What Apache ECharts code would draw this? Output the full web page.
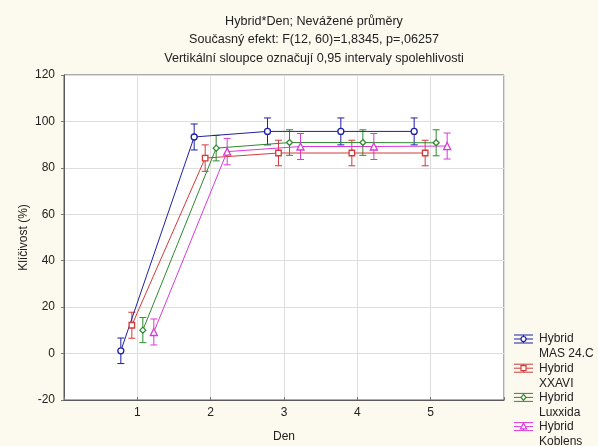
<!DOCTYPE html>
<html><head><meta charset="utf-8">
<script src="https://cdn.jsdelivr.net/npm/echarts@6/dist/echarts.min.js"></script>
<style>html,body{margin:0;padding:0;background:#fcf9ee}#c{width:598px;height:446px}</style>
</head><body><div id="c"></div>
<script>
// ---- data ----
const days = [1, 2, 3, 4, 5];
const xTickLabels = ['1', '2', '3', '4', '5'];
const seriesNames = ['Hybrid MAS 24.C', 'Hybrid XXAVI', 'Hybrid Luxxida', 'Hybrid Koblens'];
const legendLine1 = ['Hybrid', 'Hybrid', 'Hybrid', 'Hybrid'];
const legendLine2 = ['MAS 24.C', 'XXAVI', 'Luxxida', 'Koblens'];
const dayOffsets = [-0.225, -0.075, 0.075, 0.225];
const masValues = [1.2, 93.3, 95.7, 95.7, 95.7];
const masErr = [5.5, 5.6, 5.8, 5.8, 5.8];
const xxaviValues = [12.2, 84.2, 86.4, 86.4, 86.4];
const xxaviErr = [5.6, 5.7, 5.5, 5.5, 5.5];
const luxxidaValues = [10.1, 88.5, 90.9, 90.9, 90.8];
const luxxidaErr = [5.4, 5.5, 5.5, 5.5, 5.6];
const koblensValues = [9.3, 87.0, 89.2, 89.2, 89.4];
const koblensErr = [5.6, 5.7, 5.6, 5.6, 5.6];

const allValues = [masValues, xxaviValues, luxxidaValues, koblensValues];
const allErr = [masErr, xxaviErr, luxxidaErr, koblensErr];
const colors = ['#1f1fa8', '#d33a3a', '#2f8a2f', '#d83ad8'];
const symbols = ['circle', 'rect', 'diamond', 'triangle'];
const symbolSizes = [6, 5.5, 6, 7];
const symbolFill = ['#ffffff', '#ffffff', '#ffffff', '#ffffff'];

const FONT = '"Liberation Sans", Arial, sans-serif';
const chart = echarts.init(document.getElementById('c'), null, {renderer: 'canvas'});

const series = [];
allValues.forEach((vals, i) => {
  const errData = days.map((d, k) => [d + dayOffsets[i], vals[k] - allErr[i][k], vals[k] + allErr[i][k]]);
  series.push({
    type: 'custom',
    name: seriesNames[i] + ' err',
    z: 2,
    data: errData,
    encode: {x: 0, y: [1, 2]},
    renderItem: function (params, api) {
      const lo = api.coord([api.value(0), api.value(1)]);
      const hi = api.coord([api.value(0), api.value(2)]);
      const w = 3.5;
      const st = {stroke: colors[i], lineWidth: 1};
      return {type: 'group', children: [
        {type: 'line', shape: {x1: lo[0], y1: lo[1], x2: hi[0], y2: hi[1]}, style: st},
        {type: 'line', shape: {x1: lo[0] - w, y1: lo[1], x2: lo[0] + w, y2: lo[1]}, style: st},
        {type: 'line', shape: {x1: hi[0] - w, y1: hi[1], x2: hi[0] + w, y2: hi[1]}, style: st}
      ]};
    },
    silent: true
  });
  series.push({
    type: 'line',
    name: seriesNames[i],
    z: 3,
    data: days.map((d, k) => [d + dayOffsets[i], vals[k]]),
    symbol: symbols[i],
    symbolSize: symbolSizes[i],
    showAllSymbol: true,
    lineStyle: {color: colors[i], width: 1},
    itemStyle: {color: symbolFill[i], borderColor: colors[i], borderWidth: 1.3},
    animation: false
  });
});

// legend built from names/colors
const graphic = [];
seriesNames.forEach((n, i) => {
  const y0 = 339 + 29.2 * i;
  const x0 = 514, x1 = 533, xm = (x0 + x1) / 2;
  const st = {stroke: colors[i], lineWidth: 1};
  graphic.push({type: 'line', shape: {x1: x0, y1: y0 - 4, x2: x1, y2: y0 - 4}, style: st});
  graphic.push({type: 'line', shape: {x1: x0, y1: y0, x2: x1, y2: y0}, style: st});
  graphic.push({type: 'line', shape: {x1: x0, y1: y0 + 4, x2: x1, y2: y0 + 4}, style: st});
  graphic.push({type: 'line', shape: {x1: xm, y1: y0 - 4, x2: xm, y2: y0 + 4}, style: st});
  let mk;
  if (symbols[i] === 'circle') mk = {type: 'circle', shape: {cx: xm, cy: y0, r: 2.5}};
  else if (symbols[i] === 'rect') mk = {type: 'rect', shape: {x: xm - 2.5, y: y0 - 2.5, width: 5, height: 5}};
  else if (symbols[i] === 'diamond') mk = {type: 'polygon', shape: {points: [[xm, y0 - 3], [xm + 2.5, y0], [xm, y0 + 3], [xm - 2.5, y0]]}};
  else mk = {type: 'polygon', shape: {points: [[xm, y0 - 3.5], [xm + 3, y0 + 2.2], [xm - 3, y0 + 2.2]]}};
  mk.style = {fill: symbolFill[i], stroke: colors[i], lineWidth: 1.2};
  graphic.push(mk);
  graphic.push({type: 'text', x: 539, y: y0, style: {text: legendLine1[i], font: '12px ' + FONT, fill: '#222', verticalAlign: 'middle'}});
  graphic.push({type: 'text', x: 539, y: y0 + 15, style: {text: legendLine2[i], font: '12px ' + FONT, fill: '#222', verticalAlign: 'middle'}});
});

chart.setOption({
  backgroundColor: '#fcf9ee',
  animation: false,
  title: {
    text: 'Hybrid*Den; Nevážené průměry\nSoučasný efekt: F(12, 60)=1,8345, p=,06257\nVertikální sloupce označují 0,95 intervaly spolehlivosti',
    left: 309, top: 7, textAlign: 'center',
    textStyle: {fontFamily: FONT, fontSize: 12.6, fontWeight: 'normal', color: '#222', lineHeight: 18.5}
  },
  grid: {left: 64, right: 94, top: 75, bottom: 46, show: true, containLabel: false, outerBoundsMode: 'none',
    backgroundColor: '#ffffff', borderColor: '#5a5a5a', borderWidth: 1},
  xAxis: {
    type: 'value', min: 0, max: 6, interval: 1,
    name: 'Den', nameLocation: 'middle', nameGap: 31, nameMoveOverlap: false,
    nameTextStyle: {fontFamily: FONT, fontSize: 12, color: '#222'},
    axisLine: {show: true, onZero: false, lineStyle: {color: '#5a5a5a'}},
    axisTick: {show: true, inside: true, length: 3, lineStyle: {color: '#777'}},
    axisLabel: {fontFamily: FONT, fontSize: 12, color: '#222', margin: 7,
      formatter: v => (v >= 1 && v <= 5) ? xTickLabels[v - 1] : ''},
    splitLine: {show: true, lineStyle: {color: '#dedede'}}
  },
  yAxis: {
    type: 'value', min: -20, max: 120, interval: 20,
    name: 'Klíčivost (%)', nameLocation: 'middle', nameGap: 34, nameMoveOverlap: false,
    nameTextStyle: {fontFamily: FONT, fontSize: 12, color: '#222'},
    axisLine: {show: true, onZero: false, lineStyle: {color: '#5a5a5a'}},
    axisTick: {show: true, inside: false, length: 3, lineStyle: {color: '#777'}},
    axisLabel: {fontFamily: FONT, fontSize: 12, color: '#222', margin: 9},
    splitLine: {show: true, lineStyle: {color: '#dedede'}}
  },
  graphic: graphic,
  series: series
});
</script>
</body></html>
